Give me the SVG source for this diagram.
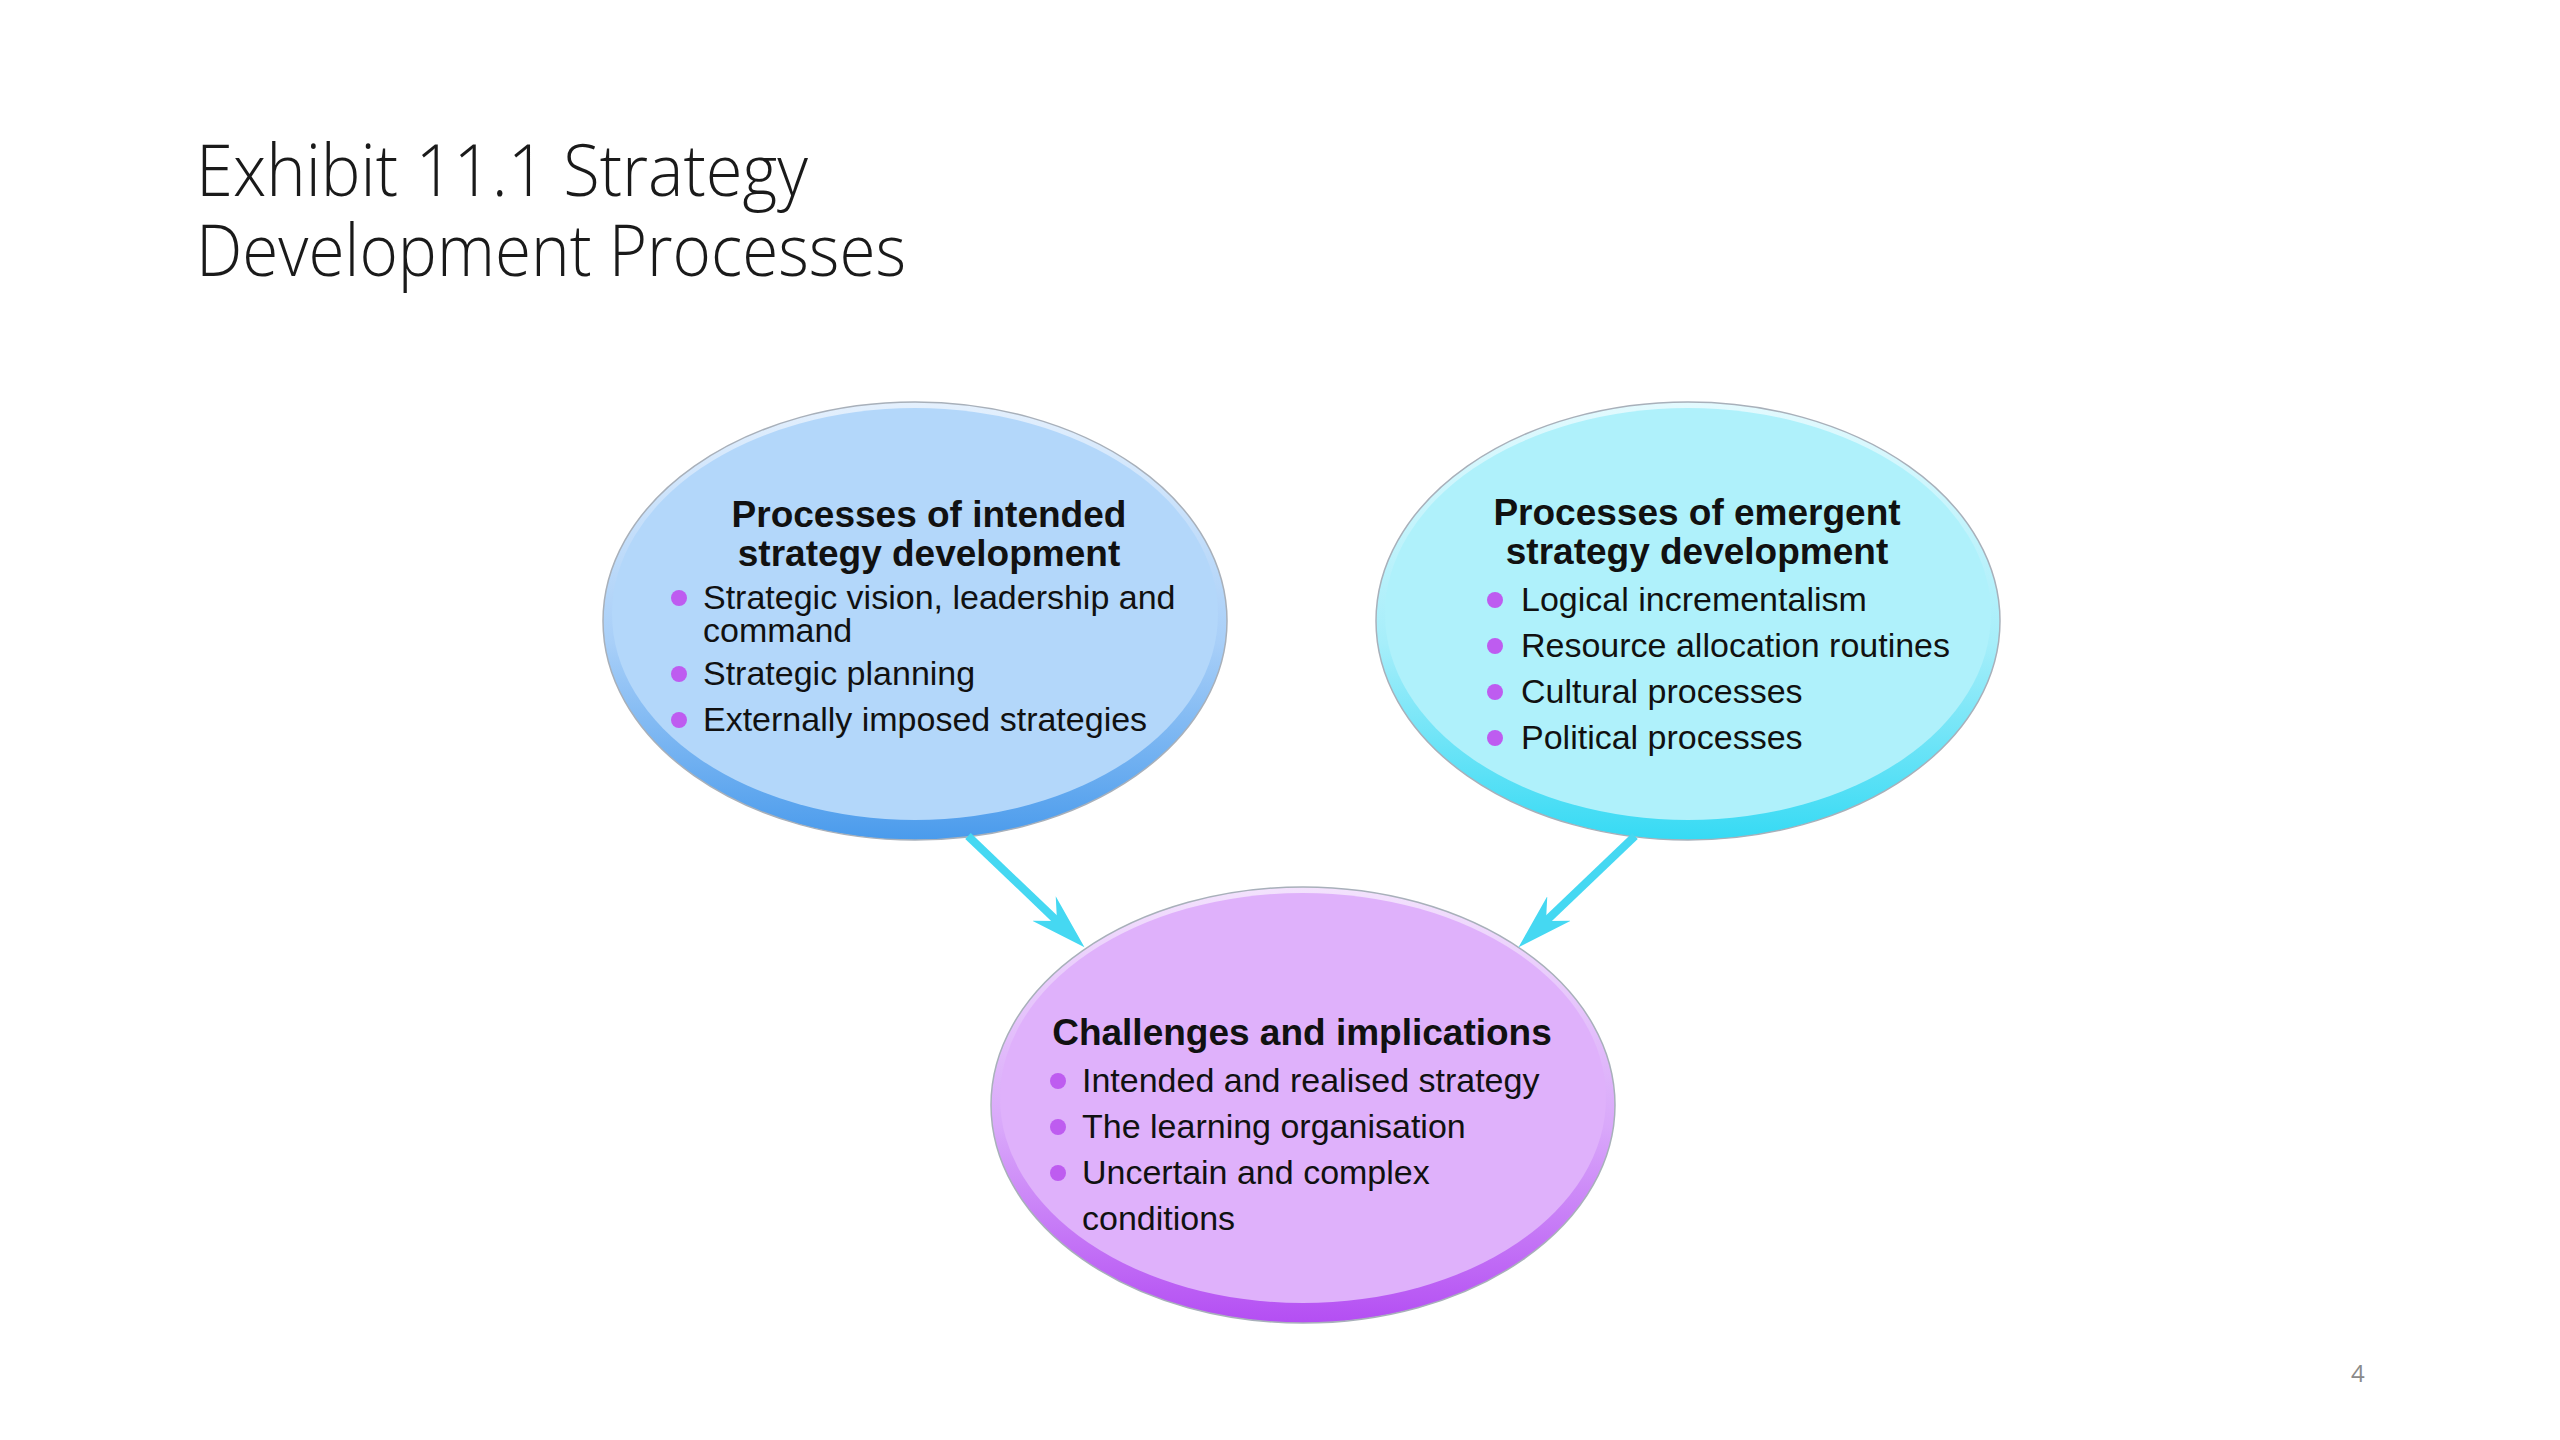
<svg xmlns="http://www.w3.org/2000/svg" width="2560" height="1440" viewBox="0 0 2560 1440">
<defs>
<linearGradient id="gBlue" x1="0" y1="0" x2="0" y2="1">
<stop offset="0" stop-color="#E4F0FD"/>
<stop offset="0.55" stop-color="#A8CFF8"/>
<stop offset="1" stop-color="#4A9BEC"/>
</linearGradient>
<linearGradient id="gCyan" x1="0" y1="0" x2="0" y2="1">
<stop offset="0" stop-color="#E3FAFE"/>
<stop offset="0.55" stop-color="#A6EEFA"/>
<stop offset="1" stop-color="#36DAF4"/>
</linearGradient>
<linearGradient id="gViolet" x1="0" y1="0" x2="0" y2="1">
<stop offset="0" stop-color="#F3E2FD"/>
<stop offset="0.55" stop-color="#D9A8FA"/>
<stop offset="1" stop-color="#B44EF3"/>
</linearGradient>
<marker id="head" viewBox="0 -18 58 36" refX="18" refY="0" markerWidth="58" markerHeight="36" markerUnits="userSpaceOnUse" orient="auto">
<path d="M0,-17 L56,0 L0,17 L18,0 Z" fill="#45D8F2"/>
</marker>
</defs>
<style>
.title{font-family:"Open Sans","Liberation Sans",sans-serif;font-weight:300;font-size:72px;fill:#1a1a1a}
.head{font-family:"Liberation Sans",Arial,sans-serif;font-weight:bold;font-size:37px;fill:#111;text-anchor:middle}
.item{font-family:"Liberation Sans",Arial,sans-serif;font-size:34px;fill:#111}
.dot{fill:#BE5CF0}
.rim{stroke:#A8B0BA;stroke-width:1.5}
.conn{stroke:#45D8F2;stroke-width:8;fill:none;marker-end:url(#head)}
.pg{font-family:"Open Sans","Liberation Sans",sans-serif;font-size:24px;fill:#8a8a8a}
</style>
<rect width="2560" height="1440" fill="#FFFFFF"/>
<g id="title">
<text class="title" x="196" y="196" textLength="612" lengthAdjust="spacingAndGlyphs">Exhibit 11.1 Strategy</text>
<text class="title" x="196" y="276" textLength="710" lengthAdjust="spacingAndGlyphs">Development Processes</text>
</g>
<g id="node-intended">
<ellipse class="rim" cx="915" cy="621" rx="312" ry="219" fill="url(#gBlue)"/>
<ellipse cx="915" cy="614" rx="303" ry="206" fill="#B3D7FA"/>
<text class="head" x="929" y="527">Processes of intended</text>
<text class="head" x="929" y="566">strategy development</text>
<circle class="dot" cx="679" cy="598" r="8"/>
<text class="item" x="703" y="609">Strategic vision, leadership and</text>
<text class="item" x="703" y="642">command</text>
<circle class="dot" cx="679" cy="674" r="8"/>
<text class="item" x="703" y="685">Strategic planning</text>
<circle class="dot" cx="679" cy="720" r="8"/>
<text class="item" x="703" y="731">Externally imposed strategies</text>
</g>
<g id="node-emergent">
<ellipse class="rim" cx="1688" cy="621" rx="312" ry="219" fill="url(#gCyan)"/>
<ellipse cx="1688" cy="614" rx="303" ry="206" fill="#AFF1FB"/>
<text class="head" x="1697" y="525">Processes of emergent</text>
<text class="head" x="1697" y="564">strategy development</text>
<circle class="dot" cx="1495" cy="600" r="8"/>
<text class="item" x="1521" y="611">Logical incrementalism</text>
<circle class="dot" cx="1495" cy="646" r="8"/>
<text class="item" x="1521" y="657">Resource allocation routines</text>
<circle class="dot" cx="1495" cy="692" r="8"/>
<text class="item" x="1521" y="703">Cultural processes</text>
<circle class="dot" cx="1495" cy="738" r="8"/>
<text class="item" x="1521" y="749">Political processes</text>
</g>
<g id="node-challenges">
<ellipse class="rim" cx="1303" cy="1105" rx="312" ry="218" fill="url(#gViolet)"/>
<ellipse cx="1303" cy="1098" rx="303" ry="205" fill="#DFB1FB"/>
<text class="head" x="1302" y="1045">Challenges and implications</text>
<circle class="dot" cx="1058" cy="1081" r="8"/>
<text class="item" x="1082" y="1092">Intended and realised strategy</text>
<circle class="dot" cx="1058" cy="1127" r="8"/>
<text class="item" x="1082" y="1138">The learning organisation</text>
<circle class="dot" cx="1058" cy="1173" r="8"/>
<text class="item" x="1082" y="1184">Uncertain and complex</text>
<text class="item" x="1082" y="1230">conditions</text>
</g>
<g id="connectors">
<path class="conn" d="M968,836 L1057,921"/>
<path class="conn" d="M1635,836 L1546,921"/>
</g>
<text class="pg" x="2351" y="1382">4</text>
</svg>
